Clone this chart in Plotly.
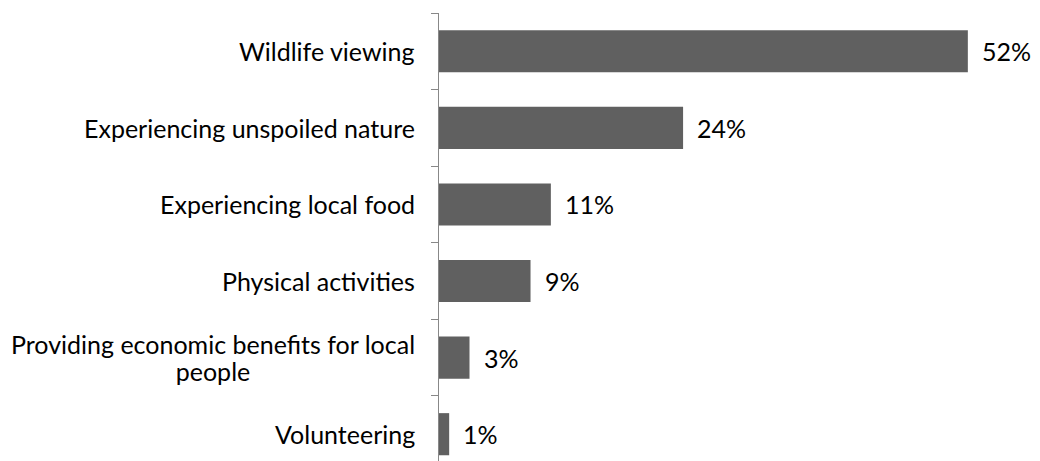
import plotly.graph_objects as go

# Share of respondents naming each activity as most important
categories = [
    "Wildlife viewing",
    "Experiencing unspoiled nature",
    "Experiencing local food",
    "Physical activities",
    "Providing economic benefits for local<br>people",
    "Volunteering",
]
values = [52, 24, 11, 9, 3, 1]
labels = ["52%", "24%", "11%", "9%", "3%", "1%"]

BAR_COLOR = "#606060"
AXIS_COLOR = "#888888"
FONT = "Lato, 'Open Sans', sans-serif"
FONT_SIZE = 25
LINE_STEP = 27      # px between wrapped label lines
WRAP_BOX = 404      # px width of the box that wrapped lines are centred in

fig = go.Figure(
    go.Bar(
        x=values,
        y=categories,
        orientation="h",
        marker=dict(color=BAR_COLOR, line=dict(width=0)),
        hoverinfo="skip",
    )
)

annotations = []
# value labels just past each bar end
for cat, val, lab in zip(categories, values, labels):
    annotations.append(dict(
        x=val, y=cat, xref="x", yref="y",
        text=lab, showarrow=False,
        xanchor="left", yanchor="middle", xshift=12,
        font=dict(family=FONT, size=FONT_SIZE, color="#000000"),
    ))

# category names; wrapped names are drawn line by line inside a fixed-width box
for cat in categories:
    lines = cat.split("<br>")
    n = len(lines)
    for i, line in enumerate(lines):
        ann = dict(
            x=0, y=cat, xref="paper", yref="y",
            text=line, showarrow=False,
            xanchor="right", yanchor="middle",
            xshift=-22, yshift=((n - 1) / 2 - i) * LINE_STEP,
            font=dict(family=FONT, size=FONT_SIZE, color="#000000"),
        )
        if n > 1:
            ann.update(width=WRAP_BOX, align="center")
        annotations.append(ann)

fig.update_layout(
    width=1040, height=461,
    margin=dict(l=439, r=20, t=13, b=0),
    paper_bgcolor="white", plot_bgcolor="white",
    bargap=0.45,
    showlegend=False,
    annotations=annotations,
    xaxis=dict(
        range=[0, (1020 - 439) / 10.17],
        visible=False, showgrid=False, zeroline=False,
    ),
    yaxis=dict(
        type="category",
        range=[5.35, -0.5],
        showticklabels=False,
        showline=True, linecolor=AXIS_COLOR, linewidth=1,
        ticks="outside", ticklen=7, tickcolor=AXIS_COLOR, tickwidth=1,
        tickson="boundaries",
        showgrid=False, zeroline=False,
    ),
)

fig.write_html("out.html")
